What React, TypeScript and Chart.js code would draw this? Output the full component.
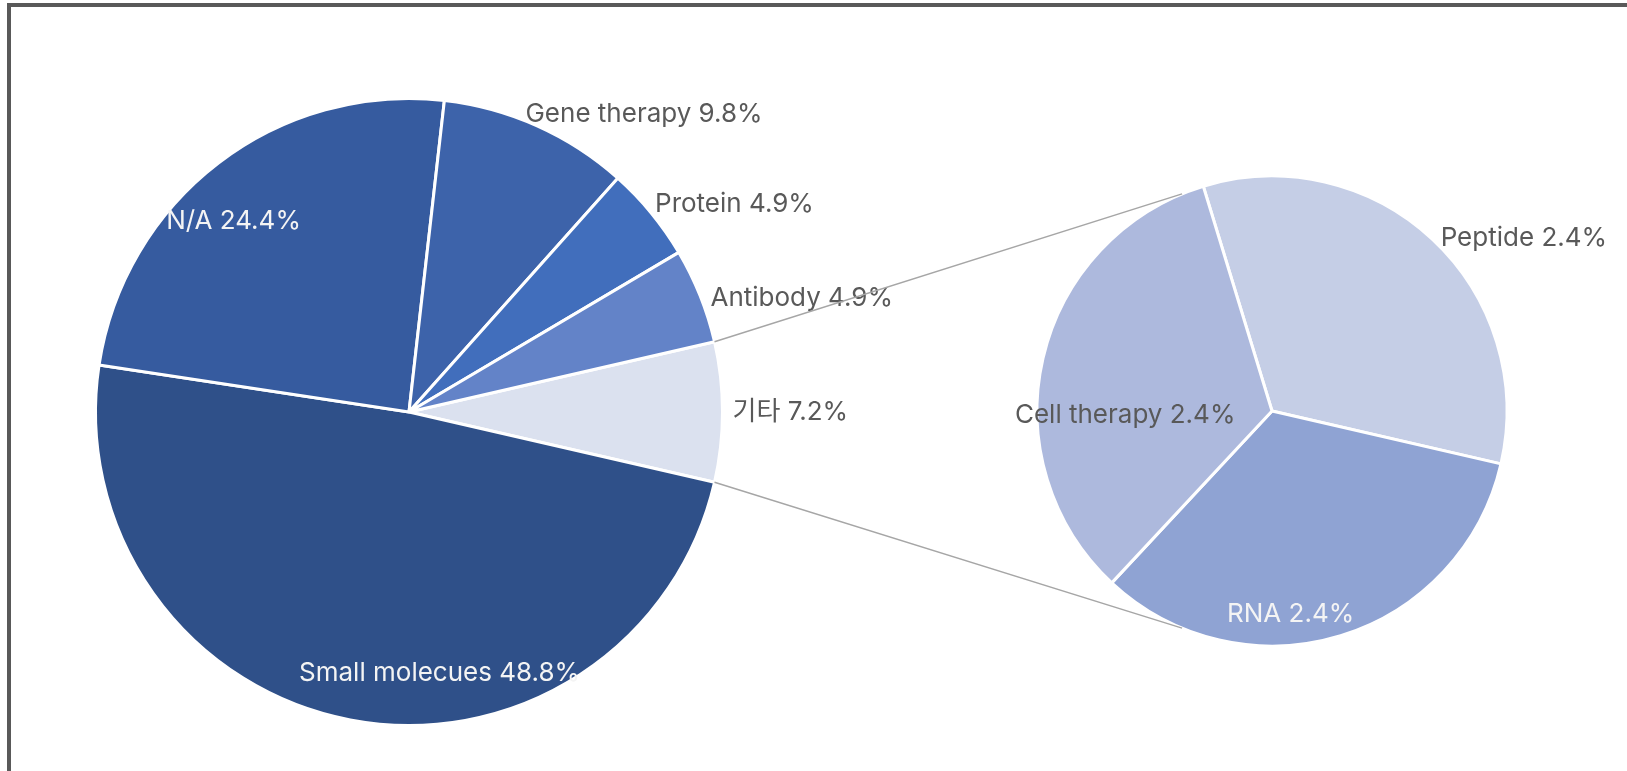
import React, { useEffect, useRef } from 'react';
import { Chart, registerables } from 'chart.js';

Chart.register(...registerables);

const W = 1627;
const H = 771;

// Main pie (first slice is the "기타" group that is broken out)
const mainLabels = ['기타', 'Small molecues', 'N/A', 'Gene therapy', 'Protein', 'Antibody'];
const mainValues = [7.2, 48.8, 24.4, 9.8, 4.9, 4.9];
const mainColors = ['#dbe1ef', '#2f5089', '#365b9f', '#3d63aa', '#416ebc', '#6383c8'];

// Secondary pie (breakdown of 기타)
const subLabels = ['Peptide', 'RNA', 'Cell therapy'];
const subValues = [2.4, 2.4, 2.4];
const subColors = ['#c5cee6', '#8fa3d3', '#adb9dd'];

const FONT = "26px Inter, 'Noto Sans CJK KR', sans-serif";
const DARK = '#595959';
const LIGHT = '#f4f4f4';

type Place = { rf: number; da: number; dy: number; align: CanvasTextAlign; color: string };

const mainPlace: Place[] = [
  { rf: 1.032, da: 0, dy: 0, align: 'left', color: DARK },
  { rf: 0.836, da: -17.5, dy: 1, align: 'center', color: LIGHT },
  { rf: 0.831, da: -4.9, dy: 2, align: 'center', color: LIGHT },
  { rf: 1.031, da: -3.0, dy: 4, align: 'left', color: DARK },
  { rf: 1.034, da: -1.2, dy: 3, align: 'left', color: DARK },
  { rf: 1.03, da: 0.8, dy: 2, align: 'left', color: DARK },
];
const subPlace: Place[] = [
  { rf: 1.035, da: 0.9, dy: 2, align: 'left', color: DARK },
  { rf: 0.86, da: 11.7, dy: 2, align: 'center', color: LIGHT },
  { rf: 0.625, da: -14.5, dy: 0, align: 'center', color: DARK },
];

const CONNECTOR_ANGLE = 112.5; // degrees on secondary pie where connector lines meet

function labelPlugin(id: string, labels: string[], values: number[], place: Place[]) {
  return {
    id,
    afterDatasetsDraw(chart: any) {
      const ctx = chart.ctx as CanvasRenderingContext2D;
      const meta = chart.getDatasetMeta(0);
      ctx.save();
      ctx.font = FONT;
      ctx.textBaseline = 'middle';
      meta.data.forEach((arc: any, i: number) => {
        const p = arc.getProps(['x', 'y', 'startAngle', 'endAngle', 'outerRadius'], true);
        const pl = place[i];
        const a = (p.startAngle + p.endAngle) / 2 + (pl.da * Math.PI) / 180;
        const r = p.outerRadius * pl.rf;
        ctx.fillStyle = pl.color;
        ctx.textAlign = pl.align;
        ctx.fillText(
          `${labels[i]} ${values[i].toFixed(1)}%`,
          p.x + Math.cos(a) * r,
          p.y + Math.sin(a) * r + pl.dy
        );
      });
      ctx.restore();
    },
  };
}

export default function App() {
  const mainRef = useRef<HTMLCanvasElement>(null);
  const subRef = useRef<HTMLCanvasElement>(null);

  useEffect(() => {
    const mainTotal = mainValues.reduce((a, b) => a + b, 0);
    const mainChart = new Chart(mainRef.current!, {
      type: 'pie',
      data: {
        labels: mainLabels,
        datasets: [
          {
            data: mainValues,
            backgroundColor: mainColors,
            borderColor: '#ffffff',
            borderWidth: 3,
          },
        ],
      },
      options: {
        responsive: false,
        animation: false,
        events: [],
        radius: 313.5,
        rotation: 90 - (mainValues[0] / mainTotal) * 180,
        layout: { padding: { left: 95.5, right: 904.5, top: 98.5, bottom: 45.5 } },
        plugins: { legend: { display: false }, tooltip: { enabled: false } },
      } as any,
      plugins: [labelPlugin('mainLabels', mainLabels, mainValues, mainPlace)],
    });

    const connector = {
      id: 'connector',
      afterDraw(chart: any) {
        const ctx = chart.ctx as CanvasRenderingContext2D;
        const src = mainChart.getDatasetMeta(0).data[0] as any;
        const s = src.getProps(['x', 'y', 'startAngle', 'endAngle', 'outerRadius'], true);
        const dst = (chart.getDatasetMeta(0).data[0] as any).getProps(['x', 'y', 'outerRadius'], true);
        const ca = (CONNECTOR_ANGLE * Math.PI) / 180;
        ctx.save();
        ctx.strokeStyle = '#a6a6a6';
        ctx.lineWidth = 1.5;
        ctx.beginPath();
        ctx.moveTo(s.x + Math.cos(s.startAngle) * s.outerRadius, s.y + Math.sin(s.startAngle) * s.outerRadius);
        ctx.lineTo(dst.x + Math.cos(-ca) * dst.outerRadius, dst.y + Math.sin(-ca) * dst.outerRadius);
        ctx.moveTo(s.x + Math.cos(s.endAngle) * s.outerRadius, s.y + Math.sin(s.endAngle) * s.outerRadius);
        ctx.lineTo(dst.x + Math.cos(ca) * dst.outerRadius, dst.y + Math.sin(ca) * dst.outerRadius);
        ctx.stroke();
        ctx.restore();
      },
    };

    const subChart = new Chart(subRef.current!, {
      type: 'pie',
      data: {
        labels: subLabels,
        datasets: [
          {
            data: subValues,
            backgroundColor: subColors,
            borderColor: '#ffffff',
            borderWidth: 3,
          },
        ],
      },
      options: {
        responsive: false,
        animation: false,
        events: [],
        radius: 235,
        rotation: -17,
        layout: { padding: { left: 1022, right: 105, top: 161, bottom: 110 } },
        plugins: { legend: { display: false }, tooltip: { enabled: false } },
      } as any,
      plugins: [labelPlugin('subLabels', subLabels, subValues, subPlace), connector],
    });

    return () => {
      subChart.destroy();
      mainChart.destroy();
    };
  }, []);

  return (
    <div
      style={{
        position: 'fixed',
        left: 0,
        top: 0,
        width: W,
        height: H,
        overflow: 'hidden',
        background: '#ffffff',
      }}
    >
      <div
        style={{
          position: 'absolute',
          left: 7,
          top: 3,
          width: 1700,
          height: 900,
          border: '4px solid #595959',
        }}
      />
      <canvas ref={mainRef} width={W} height={H} style={{ position: 'absolute', left: 0, top: 0 }} />
      <canvas ref={subRef} width={W} height={H} style={{ position: 'absolute', left: 0, top: 0 }} />
    </div>
  );
}
